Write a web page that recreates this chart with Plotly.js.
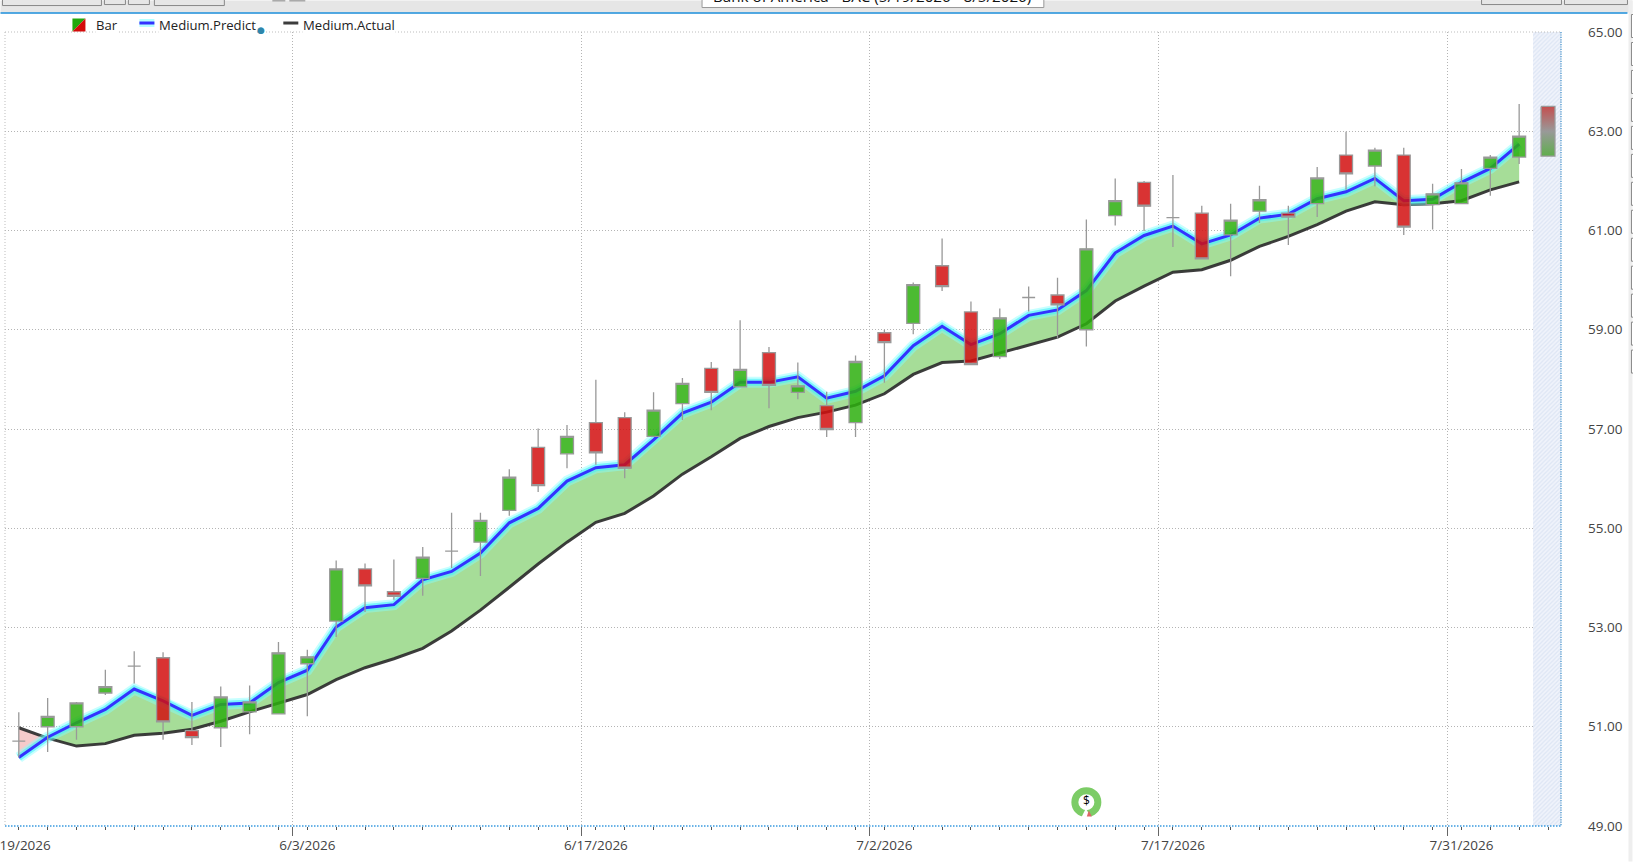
<!DOCTYPE html>
<html>
<head>
<meta charset="utf-8">
<script src="https://cdn.plot.ly/plotly-3.0.1.min.js"></script>
<style>html,body{margin:0;padding:0;background:#fff;overflow:hidden}#chart{width:1633px;height:862px}</style>
</head>
<body>
<div id="chart"></div>
<script>
const dates = ["5/19/2026","5/20/2026","5/21/2026","5/22/2026","5/26/2026","5/27/2026","5/28/2026","5/29/2026","6/1/2026","6/2/2026",
"6/3/2026","6/4/2026","6/5/2026","6/8/2026","6/9/2026","6/10/2026","6/11/2026","6/12/2026","6/15/2026","6/16/2026",
"6/17/2026","6/18/2026","6/22/2026","6/23/2026","6/24/2026","6/25/2026","6/26/2026","6/29/2026","6/30/2026","7/1/2026",
"7/2/2026","7/6/2026","7/7/2026","7/8/2026","7/9/2026","7/10/2026","7/13/2026","7/14/2026","7/15/2026","7/16/2026",
"7/17/2026","7/20/2026","7/21/2026","7/22/2026","7/23/2026","7/24/2026","7/27/2026","7/28/2026","7/29/2026","7/30/2026",
"7/31/2026","8/3/2026","8/4/2026"];
const forecastDate = ["8/5/2026"];
const labelledDates = ["5/19/2026","6/3/2026","6/17/2026","7/2/2026","7/17/2026","7/31/2026"];

const opens = [50.71,51.00,51.00,51.68,52.22,52.39,50.92,50.98,51.30,51.26,52.27,53.13,54.18,53.72,53.99,54.54,54.72,55.36,56.63,56.50,57.13,57.23,56.85,57.51,58.22,57.85,58.54,57.74,57.47,57.13,58.94,59.13,60.29,59.36,58.46,59.65,59.70,59.00,61.30,61.97,61.26,61.35,60.91,61.39,61.35,61.54,62.52,62.30,62.52,61.52,61.54,62.25,62.48];
const highs = [51.29,51.58,51.50,52.15,52.52,52.50,51.50,51.81,51.83,52.71,52.55,54.35,54.29,54.37,54.62,55.31,55.31,56.19,57.01,57.08,57.99,57.34,57.74,58.03,58.35,59.19,58.65,58.34,57.75,58.48,59.00,59.95,60.84,59.57,59.43,59.87,60.05,61.22,62.05,62.00,62.12,61.50,61.54,61.90,61.50,62.28,62.99,62.67,62.67,61.94,62.24,62.52,63.55];
const lows = [50.38,50.49,50.74,51.64,51.87,50.74,50.63,50.59,50.85,51.26,51.21,52.81,53.31,53.56,53.64,54.20,54.04,55.25,55.73,56.21,56.28,56.01,56.85,57.18,57.38,57.85,57.42,57.60,56.84,56.84,57.93,58.91,59.78,58.30,58.41,59.37,58.82,58.66,61.10,60.99,60.67,60.43,60.08,61.15,60.71,61.27,61.82,61.89,60.91,61.02,61.54,61.70,62.34];
const closes = [50.71,51.21,51.48,51.81,52.22,51.10,50.78,51.60,51.50,52.49,52.41,54.18,53.84,53.63,54.42,54.54,55.16,56.03,55.86,56.85,56.52,56.21,57.38,57.92,57.74,58.20,57.88,57.87,56.99,58.36,58.74,59.91,59.87,58.30,59.24,59.65,59.50,60.63,61.60,61.49,61.26,60.43,61.21,61.62,61.27,62.06,62.14,62.62,61.07,61.74,61.96,62.48,62.90];

const predict = [50.38,50.79,51.08,51.35,51.76,51.52,51.23,51.45,51.48,51.89,52.14,53.01,53.40,53.46,53.96,54.13,54.50,55.11,55.40,55.95,56.22,56.28,56.78,57.32,57.54,57.94,57.94,58.05,57.62,57.76,58.07,58.68,59.07,58.70,58.92,59.29,59.40,59.79,60.55,60.90,61.09,60.73,60.91,61.25,61.33,61.64,61.78,62.05,61.60,61.63,61.97,62.25,62.74];
const actual = [50.98,50.77,50.61,50.66,50.83,50.87,50.95,51.11,51.30,51.48,51.65,51.95,52.19,52.37,52.58,52.93,53.35,53.81,54.28,54.72,55.12,55.30,55.65,56.09,56.44,56.81,57.05,57.23,57.34,57.48,57.71,58.10,58.34,58.37,58.53,58.70,58.85,59.12,59.58,59.88,60.16,60.21,60.40,60.68,60.88,61.12,61.39,61.58,61.52,61.54,61.60,61.82,61.98];

const forecastHigh = [63.50];
const forecastLow = [62.50];
const eventDate = ["7/14/2026"];
const eventLevel = [49.48];
const priceTicks = [49,51,53,55,57,59,61,63,65];

const W = 1633, H = 862, L = 4.5, R = 71.5, T = 31.5, B = 35.5;
const PW = W - L - R, PH = H - T - B;
const px = v => (v - L) / PW;
const py = v => 1 - (v - T) / PH;

const allDates = dates.concat(forecastDate);
const idx = d => allDates.indexOf(d);
const xs = dates.map((_, i) => i);
const fx = idx(forecastDate[0]);

const d0 = predict[0] - actual[0], d1 = predict[1] - actual[1];
const tc = -d0 / (d1 - d0);
const crossY = predict[0] + tc * (predict[1] - predict[0]);

const greenX = [tc].concat(xs.slice(1), xs.slice(1).reverse());
const greenY = [crossY].concat(predict.slice(1), actual.slice(1).reverse());

const boundaries = labelledDates.slice(1).map(d => idx(d) - 0.5);

const traces = [
  {type:'bar', x:[fx], y:[65-49], base:[49], width:[1.06], xaxis:'x', yaxis:'y', hoverinfo:'skip',
   marker:{color:'#f0f3fb', line:{width:0}, pattern:{shape:'/', size:3, solidity:0.4, fgcolor:'#dde5f4', bgcolor:'#f0f3fb'}}},
  {type:'scatter', mode:'none', x:[0,tc,0], y:[actual[0],crossY,predict[0]], fill:'toself', fillcolor:'#f6caca', xaxis:'x', yaxis:'y', hoverinfo:'skip'},
  {type:'scatter', mode:'none', x:greenX, y:greenY, fill:'toself', fillcolor:'#a6dd98', xaxis:'x', yaxis:'y', hoverinfo:'skip'},
  {type:'scatter', mode:'lines', x:xs, y:actual, name:'Medium.Actual', line:{color:'rgba(45,45,45,0.92)', width:3}, xaxis:'x', yaxis:'y'},
  {type:'scatter', mode:'lines', x:xs, y:predict, line:{color:'rgba(130,255,255,0.45)', width:11}, xaxis:'x', yaxis:'y', hoverinfo:'skip'},
  {type:'scatter', mode:'lines', x:xs, y:predict, line:{color:'rgba(70,240,250,0.6)', width:7}, xaxis:'x', yaxis:'y', hoverinfo:'skip'},
  {type:'scatter', mode:'lines', x:xs, y:predict, name:'Medium.Predict', line:{color:'#3333ff', width:3}, xaxis:'x', yaxis:'y'},
  {type:'candlestick', name:'Bar', x:xs, open:opens, high:highs, low:lows, close:closes, xaxis:'x2', yaxis:'y',
   increasing:{fillcolor:'rgba(45,175,14,0.85)', line:{color:'#999999', width:1.3}},
   decreasing:{fillcolor:'rgba(210,15,15,0.85)', line:{color:'#999999', width:1.3}}},
  {type:'scatter', mode:'lines', xaxis:'x2', yaxis:'y', hoverinfo:'skip',
   x:[fx-0.24,fx+0.24,fx+0.24,fx-0.24,fx-0.24],
   y:[forecastHigh[0],forecastHigh[0],forecastLow[0],forecastLow[0],forecastHigh[0]],
   fill:'toself', line:{color:'#999999', width:1.3},
   fillgradient:{type:'vertical', colorscale:[[0,'#5fae4c'],[0.5,'#999999'],[1,'#c44f4f']]}},
  {type:'scatter', mode:'markers+text', xaxis:'x2', yaxis:'y', hoverinfo:'skip',
   x:eventDate.map(idx), y:eventLevel, text:['$'], textposition:'middle center',
   textfont:{family:'Open Sans, sans-serif', size:12, color:'#000'},
   marker:{symbol:'circle', size:23, color:'#ffffff', line:{color:'#7ccc66', width:7}}}
];

const rect = (x0,y0,x1,y1,fill,line) => ({type:'rect', xref:'paper', yref:'paper', x0:px(x0), x1:px(x1), y0:py(y0), y1:py(y1),
  fillcolor:fill, line:{color:line||fill, width:line?1:0}, layer:'above'});
const seg = (x0,y0,x1,y1,color,width,dash) => ({type:'line', xref:'paper', yref:'paper', x0:px(x0), x1:px(x1), y0:py(y0), y1:py(y1),
  line:{color, width, dash:dash||'solid'}, layer:'above'});
const tri = (pts,fill) => ({type:'path', xref:'paper', yref:'paper', fillcolor:fill, line:{width:0}, layer:'above',
  path:'M'+pts.map(p=>px(p[0])+','+py(p[1])).join(' L')+' Z'});

const shapes = [
  // plot frame
  seg(L,31.5,W-R,31.5,'#bdbdbd',1,'1px,2px'),
  seg(L,31.5,L,826.5,'#bdbdbd',1,'1px,2px'),
  seg(L,826.5,W-R,826.5,'#3a9be0',1.5,'1.5px,1.5px'),
  seg(W-R,31.5,W-R,826.5,'#3a8cc8',1.2,'1.2px,1.2px'),
  // window header
  rect(0,0,W,12,'#e6e6e6'),
  seg(0,12.5,1628,12.5,'#1a8cd8',1.5),
  rect(2,-4,101,5,'#e6e6e6','#888888'),
  rect(104,-4,125,4,'#e6e6e6','#888888'),
  rect(128,-4,149,4,'#e6e6e6','#888888'),
  rect(154,-4,224,5,'#e6e6e6','#888888'),
  rect(272,-2,285,1,'#aaaaaa'),
  rect(289,-2,305,1,'#aaaaaa'),
  rect(702,-4,1044,7,'#ffffff','#999999'),
  rect(1482,-4,1562,4,'#e6e6e6','#888888'),
  rect(1565,-4,1628,4,'#e6e6e6','#888888'),
  // right edge strip
  rect(1629,0,1633,862,'#eeeeee'),
  // legend swatches
  tri([[72,18],[85,18],[72,31]],'#22a80c'),
  tri([[85,18],[85,31],[72,31]],'#d40a0a'),
  seg(139,22.5,154,22.5,'rgba(130,255,255,0.6)',8),
  seg(139,22.5,154,22.5,'#3333ff',3),
  seg(283,22.5,298,22.5,'#3c3c3c',3),
  // dividend marker notch and tail
  tri([[1081,819],[1086,809],[1092,819]],'#ffffff'),
  tri([[1087,817],[1089,811],[1092,817]],'#dd6666')
];
for (let y = 14; y < 360; y += 28) shapes.push(rect(1632,y,1640,y+23,'#ffffff','#888888'));

const ann = (x,y,text) => ({xref:'paper', yref:'paper', x:px(x), y:py(y), xanchor:'left', yanchor:'middle', showarrow:false,
  text, bgcolor:'#ffffff', borderpad:0, font:{family:'Open Sans, sans-serif', size:13.1, color:'#222'}});
const annotations = [
  ann(95,24.5,'Bar'), ann(158,24.5,'Medium.Predict'), ann(302,24.5,'Medium.Actual'),
  {xref:'paper', yref:'paper', x:px(711), y:py(-4.5), xanchor:'left', yanchor:'middle', showarrow:false,
   text:'Bank of America - BAC (5/19/2026 - 8/5/2026)', font:{family:'Open Sans, sans-serif', size:15.2, color:'#111'}},
  {xref:'paper', yref:'paper', x:px(261), y:py(29.5), xanchor:'center', yanchor:'middle', showarrow:false,
   text:'●', font:{family:'DejaVu Sans, sans-serif', size:9, color:'#2e86ab'}}
];

const tickFont = {family:'Open Sans, sans-serif', size:13.5, color:'#444'};
const xRange = [-0.478, 53.45];
const dotted = '1px,2px';

const layout = {
  width:W, height:H, autosize:false, showlegend:false, hovermode:false,
  margin:{l:L, r:R, t:T, b:B, pad:0},
  paper_bgcolor:'#ffffff', plot_bgcolor:'#ffffff',
  boxgap:0.36, boxmode:'overlay', bargap:0,
  xaxis:{type:'linear', range:xRange, tickmode:'array', tickvals:boundaries, ticktext:boundaries.map(()=>''),
    showgrid:true, griddash:dotted, gridcolor:'#b4b4b4', gridwidth:1, zeroline:false, showline:false,
    ticks:'outside', ticklen:9, tickcolor:'#666', tickwidth:1,
    minor:{tickmode:'array', tickvals:allDates.map((_,i)=>i), ticks:'outside', ticklen:3, tickcolor:'#555', tickwidth:1, showgrid:false},
    fixedrange:true},
  xaxis2:{type:'linear', range:xRange, overlaying:'x', anchor:'y', side:'bottom', tickmode:'array',
    tickvals:labelledDates.map(idx), ticktext:labelledDates, ticks:'', showgrid:false, zeroline:false, showline:false,
    tickfont:tickFont, ticklabelstandoff:9, ticklabeloverflow:'allow', tickangle:0, rangeslider:{visible:false}, fixedrange:true},
  yaxis:{type:'linear', range:[49,65], side:'right', tickmode:'array', tickvals:priceTicks, ticktext:priceTicks.map(v=>v.toFixed(2)),
    showgrid:true, griddash:dotted, gridcolor:'#b4b4b4', gridwidth:1, zeroline:false, showline:false, ticks:'',
    tickfont:tickFont, ticklabelstandoff:26, ticklabeloverflow:'allow', fixedrange:true},
  shapes, annotations
};
Plotly.newPlot('chart', traces, layout, {displayModeBar:false, staticPlot:true});
</script>
</body>
</html>
